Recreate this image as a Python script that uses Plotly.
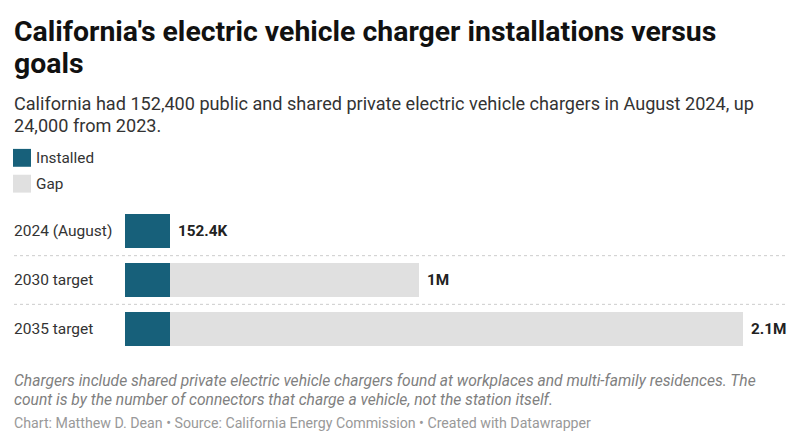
import plotly.graph_objects as go

categories = ["2024 (August)", "2030 target", "2035 target"]
installed = [152400, 152400, 152400]
totals = [152400, 1000000, 2100000]
total_labels = ["152.4K", "1M", "2.1M"]
gap = [t - i for t, i in zip(totals, installed)]

W, H = 800, 445
L, R, T, B = 125, 57, 206.5, 91.5
PW = W - L - R
PH = H - T - B

def px(x):
    return (x - L) / PW

def py(y):
    return (H - B - y) / PH

C_INST = "#17607a"
C_GAP = "#e0e0e0"
FONT = "Roboto"

fig = go.Figure()
fig.add_trace(go.Bar(y=categories, x=installed, orientation="h", marker=dict(color=C_INST, line_width=0),
                     name="Installed", showlegend=False, hoverinfo="skip"))
fig.add_trace(go.Bar(y=categories, x=gap, orientation="h", marker=dict(color=C_GAP, line_width=0),
                     name="Gap", showlegend=False, hoverinfo="skip"))

ann = []
for c, t, lab in zip(categories, totals, total_labels):
    ann.append(dict(x=t, y=c, xref="x", yref="y", text="<b>" + lab + "</b>", showarrow=False,
                    xanchor="left", xshift=6, font=dict(family=FONT, size=15.3, color="#222")))
    ann.append(dict(x=px(12), y=c, xref="paper", yref="y", text=c, showarrow=False,
                    xanchor="left", font=dict(family=FONT, size=15.5, color="#333")))

def text(x, y, s, size, color, yanchor="middle"):
    ann.append(dict(x=px(x), y=py(y), xref="paper", yref="paper", text=s, showarrow=False,
                    xanchor="left", yanchor=yanchor, align="left", font=dict(family=FONT, size=size, color=color)))

text(12, 30, "<b>California's electric vehicle charger installations versus</b>", 28.4, "#111")
text(12, 62, "<b>goals</b>", 28.4, "#111")
text(12, 102, "California had 152,400 public and shared private electric vehicle chargers in August 2024, up", 18.1, "#333")
text(12, 124, "24,000 from 2023.", 18.1, "#333")
text(34, 157, "Installed", 15.3, "#333")
text(34, 183, "Gap", 15.3, "#333")
text(12, 382, "<i>Chargers include shared private electric vehicle chargers found at workplaces and multi-family residences. The</i>", 15.6, "#808080")
text(12, 401, "<i>count is by the number of connectors that charge a vehicle, not the station itself.</i>", 15.6, "#808080")
text(12, 424, "Chart: Matthew D. Dean • Source: California Energy Commission • Created with Datawrapper", 14.2, "#999")

shapes = [
    dict(type="rect", xref="paper", yref="paper", x0=px(13), x1=px(31), y0=py(148), y1=py(166),
         fillcolor=C_INST, line_width=0),
    dict(type="rect", xref="paper", yref="paper", x0=px(13), x1=px(31), y0=py(174), y1=py(192),
         fillcolor=C_GAP, line_width=0),
]
for yv in [0.5, 1.5]:
    shapes.append(dict(type="line", xref="paper", yref="y", x0=px(14), x1=px(786), y0=yv, y1=yv,
                       line=dict(color="#cccccc", width=1, dash="dot")))

fig.update_layout(
    width=W, height=H, barmode="stack", bargap=0.306,
    margin=dict(l=L, r=R, t=T, b=B, autoexpand=False),
    plot_bgcolor="white", paper_bgcolor="white",
    xaxis=dict(range=[0, 2100000], visible=False, fixedrange=True),
    yaxis=dict(autorange="reversed", visible=False, fixedrange=True),
    annotations=ann, shapes=shapes, showlegend=False,
    font=dict(family=FONT),
)
fig.write_html("out.html", config={"displayModeBar": False},
               post_script="document.body.style.margin='0px';")
